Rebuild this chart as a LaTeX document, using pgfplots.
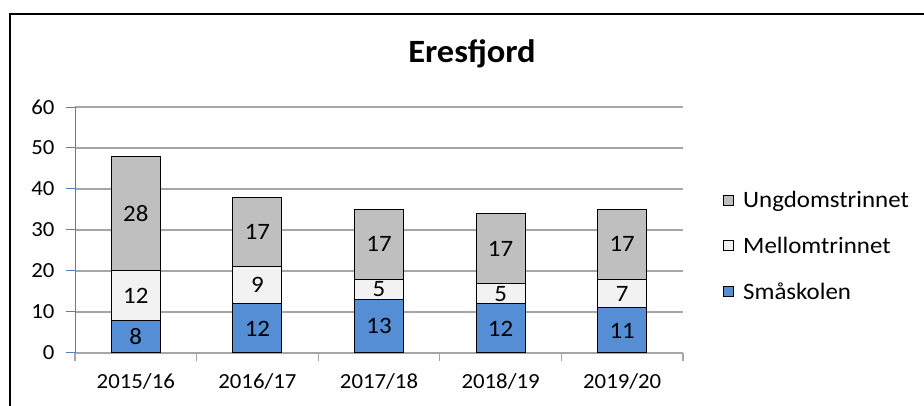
\documentclass[border=0pt]{standalone}
\usepackage{pgfplots}
\pgfplotsset{compat=1.18}
\usepackage{fontspec}
\setmainfont{Carlito}[FakeStretch=1.06]
\definecolor{blueS}{HTML}{558ED5}
\definecolor{greyU}{HTML}{BFBFBF}
\definecolor{whiteM}{HTML}{F2F2F2}
\definecolor{gridc}{HTML}{A6A6A6}
\definecolor{yax}{HTML}{4F81BD}
\pgfplotsset{
  mysq/.style={legend image code/.code={\draw[##1, line width=0.8pt] (0pt,-5pt) rectangle (10pt,5pt);\path (17pt,0pt);}},
}
\begin{document}
\begin{tikzpicture}[x=1pt,y=1pt]
\useasboundingbox (0,0) rectangle (924,406);
\draw[line width=2.5pt] (10,0) -- (10,392) -- (924,392);
\node[font=\fontsize{32.5}{37}\selectfont\bfseries, anchor=base] at (472,343) {Eresfjord};
\begin{axis}[
  at={(75pt,53pt)}, anchor=south west,
  width=608pt, height=246pt, scale only axis,
  xmin=0.5, xmax=5.5, ymin=0, ymax=60,
  ybar stacked, bar width=49pt,
  ytick={0,10,...,60},
  xtick={1,...,5},
  xticklabels={2015/16,2016/17,2017/18,2018/19,2019/20},
  minor xtick={0.5,1.5,...,5.5},
  tick align=outside,
  major tick length=9pt,
  minor tick length=8pt,
  every major x tick/.style={draw=none},
  every minor x tick/.style={gridc, line width=1.2pt},
  every major y tick/.style={yax, line width=1pt},
  axis lines*=left,
  axis line style={-},
  x axis line style={gridc, line width=1.5pt},
  y axis line style={yax, line width=1pt},
  ymajorgrids,
  major grid style={gridc, line width=1.5pt},
  /pgf/number format/assume math mode=true,
  ticklabel style={font=\fontsize{21.5}{25}\selectfont, text=black},
  yticklabel style={xshift=-8pt},
  xticklabel style={yshift=-8pt},
  legend style={at={(1.066,0.435)}, anchor=west, draw=none, fill=none,
    font=\fontsize{23.5}{27}\selectfont, row sep=24pt, inner sep=0pt},
  legend cell align=left,
  reverse legend,
]
\addplot[ybar, fill=blueS, draw=black, line width=1pt, mysq] coordinates {(1,8) (2,12) (3,13) (4,12) (5,11)};
\addlegendentry{Småskolen}
\addplot[ybar, fill=whiteM, draw=black, line width=1pt, mysq] coordinates {(1,12) (2,9) (3,5) (4,5) (5,7)};
\addlegendentry{Mellomtrinnet}
\addplot[ybar, fill=greyU, draw=black, line width=1pt, mysq] coordinates {(1,28) (2,17) (3,17) (4,17) (5,17)};
\addlegendentry{Ungdomstrinnet}
\end{axis}
\begin{axis}[
  at={(75pt,53pt)}, anchor=south west,
  width=608pt, height=246pt, scale only axis,
  xmin=0.5, xmax=5.5, ymin=0, ymax=60,
  hide axis,
]
\addplot[draw=none, mark=none, nodes near coords, point meta=explicit symbolic,
  every node near coord/.style={anchor=center, font=\fontsize{23.5}{27}\selectfont, text=black}]
  table[meta=lab] {
x y lab
1 4 8
1 14 12
1 34 28
2 6 12
2 16.5 9
2 29.5 17
3 6.5 13
3 15.5 5
3 26.5 17
4 6 12
4 14.5 5
4 25.5 17
5 5.5 11
5 14.5 7
5 26.5 17
};
\end{axis}
\end{tikzpicture}
\end{document}
